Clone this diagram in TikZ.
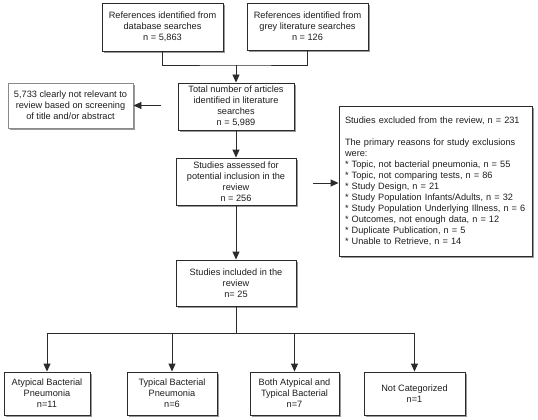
\documentclass[tikz,border=0pt]{standalone}
\usepackage{fontspec}
\setmainfont{Liberation Sans}
\usetikzlibrary{arrows.meta,shadows}
\definecolor{ln}{HTML}{2B2B2B}
\definecolor{tx}{HTML}{1E1E1E}
\definecolor{lgr}{HTML}{8A8A8A}
\begin{document}
\begin{tikzpicture}[x=1pt,y=-1pt,
  box/.style={draw=ln, line width=0.9pt, fill=white, align=center, inner sep=1pt,
    font=\fontsize{9.2}{11}\selectfont, text=tx,
    drop shadow={shadow xshift=2pt,shadow yshift=-2pt,fill=black!40,opacity=1}},
  conn/.style={draw=ln, line width=0.9pt},
  arr/.style={conn, -{Triangle[length=8pt,width=7pt]}}]
\useasboundingbox[fill=white] (0,0) rectangle (538,420);

\node[box, minimum width=121, minimum height=48] (db) at (162.5,27)
  {References identified from\\database searches\\n = 5,863};
\node[box, minimum width=121, minimum height=47] (grey) at (307.5,26.5)
  {References identified from\\grey literature searches\\n = 126};
\node[box, minimum width=116, minimum height=47] (total) at (236,106.5)
  {Total number of articles\\identified in literature\\searches\\n = 5,989};
\node[box, draw=lgr, minimum width=125, minimum height=45] (left) at (70.5,105.5)
  {5,733 clearly not relevant to\\review based on screening\\of title and/or abstract};
\node[box, minimum width=120, minimum height=47] (assessed) at (236,181.5)
  {Studies assessed for\\potential inclusion in the\\review\\n = 256};
\node[box, align=left, text width=181, inner sep=6, minimum height=150] (excl) at (435.5,181)
  {Studies excluded from the review, n = 231\\[11pt]
   The primary reasons for study exclusions\\were:\\
   {*} Topic, not bacterial pneumonia, n = 55\\
   {*} Topic, not comparing tests, n = 86\\
   {*} Study Design, n = 21\\
   {*} Study Population Infants/Adults, n = 32\\
   {*} Study Population Underlying Illness, n = 6\\
   {*} Outcomes, not enough data, n = 12\\
   {*} Duplicate Publication, n = 5\\
   {*} Unable to Retrieve, n = 14};
\node[box, minimum width=120, minimum height=46] (incl) at (236,283)
  {Studies included in the\\review\\n= 25};
\node[box, minimum width=86, minimum height=43] (b1) at (47,393.5)
  {Atypical Bacterial\\Pneumonia\\n=11};
\node[box, minimum width=90, minimum height=43] (b2) at (172,393.5)
  {Typical Bacterial\\Pneumonia\\n=6};
\node[box, minimum width=89, minimum height=43] (b3) at (294.5,393.5)
  {Both Atypical and\\Typical Bacterial\\n=7};
\node[box, minimum width=101, minimum height=43] (b4) at (414.5,393.5)
  {Not Categorized\\n=1};

\coordinate (j1) at (236,65);
\coordinate (la) at (161,105.5);
\coordinate (ra) at (313,183);
\coordinate (split) at (236,333);

\draw[conn] (db.south) |- (j1) -| (grey.south);
\draw[arr] (j1) -- (total.north);
\draw[arr] (la) -- (la -| left.east);
\draw[arr] (total.south) -- (assessed.north);
\draw[arr] (ra) -- (ra -| excl.west);
\draw[arr] (assessed.south) -- (incl.north);
\draw[conn] (incl.south) -- (split);
\draw[conn] (b1.north |- split) -- (b4.north |- split);
\foreach \b in {b1,b2,b3,b4}
  \draw[arr] (\b.north |- split) -- (\b.north);
\end{tikzpicture}
\end{document}
